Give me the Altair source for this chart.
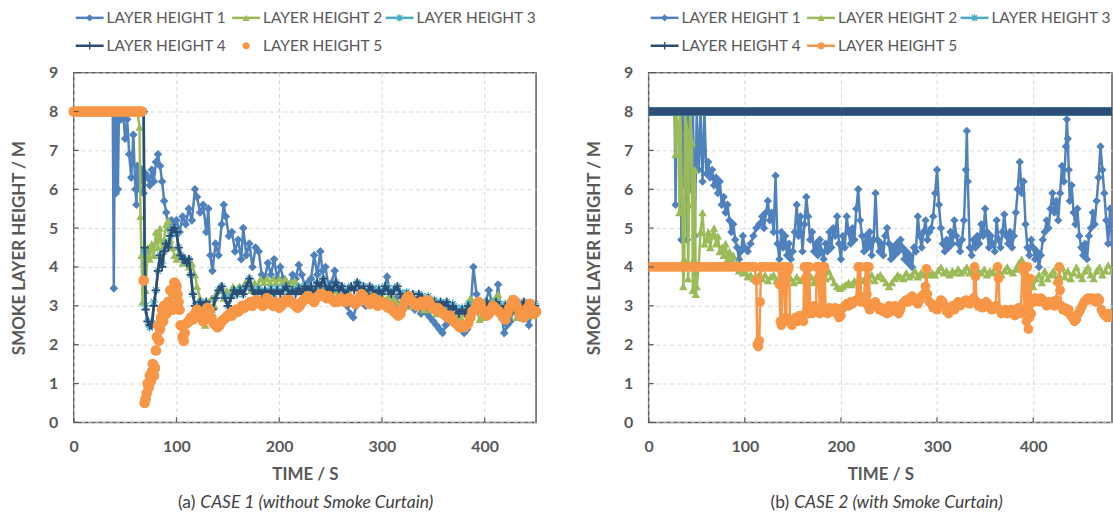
import altair as alt
import pandas as pd

# ---------------- CASE 1 (without smoke curtain): [time s, layer height m] ----------------
C1_LH1 = [[0,8],[5,8],[10,8],[15,8],[20,8],[25,8],[30,8],[35,8],[38,8],[39,3.45],[40,8],[41,5.9],[42,8],[43,6.0],[44,8],
          [46,7.8],[48,8],[50,7.3],[52,7.8],[54,6.9],[56,6.3],[58,7.4],[60,6.0],[61,5.6],[62,6.6],[64,6.0],[66,6.5],[68,5.9],
          [70,6.4],[72,6.3],[74,6.1],[76,6.5],[78,6.2],[80,6.7],[82,6.9],[84,6.6],[86,6.2],[88,5.7],[90,5.4],[92,5.0],[95,5.2],
          [98,5.1],[100,5.2],[103,4.9],[106,5.3],[109,5.1],[112,5.5],[115,5.2],[118,6.0],[120,5.8],[123,5.4],[126,5.6],[129,4.9],
          [131,5.5],[133,4.3],[135,3.9],[138,4.6],[141,4.3],[144,5.1],[146,5.6],[148,5.3],[151,4.8],[154,4.9],[157,4.4],[160,4.7],
          [163,4.2],[165,5.0],[168,4.3],[171,4.6],[174,4.0],[177,4.5],[180,4.4],[183,3.8],[186,3.7],[189,4.1],[192,3.8],[195,4.2],
          [198,3.7],[201,4.0],[204,3.7],[207,3.6],[210,3.5],[213,3.8],[216,3.7],[219,4.05],[222,3.8],[225,3.5],[228,3.6],[231,3.7],
          [234,4.3],[237,3.8],[240,4.4],[242,3.9],[245,4.0],[248,3.5],[251,3.6],[254,3.9],[257,3.4],[260,3.5],[263,3.2],[266,3.0],
          [269,2.8],[272,2.7],[275,3.0],[278,3.1],[281,3.2],[284,3.0],[287,3.3],[290,3.2],[293,3.4],[296,3.3],[299,3.2],[302,3.4],
          [305,3.75],[308,3.3],[311,3.1],[314,3.2],[317,3.0],[320,3.25],[323,3.1],[326,3.0],[329,3.1],[332,2.9],[335,3.0],[338,2.8],
          [341,2.9],[344,2.8],[347,2.7],[350,2.6],[353,2.5],[356,2.4],[359,2.3],[362,2.5],[365,2.6],[368,2.8],[371,2.6],[374,2.7],
          [377,2.5],[380,2.3],[383,2.4],[386,2.8],[389,4.0],[392,3.3],[395,3.0],[398,2.7],[401,3.1],[404,3.4],[407,3.1],[410,2.9],
          [413,3.55],[416,2.8],[419,2.3],[422,2.5],[425,2.6],[428,2.9],[431,2.8],[434,2.7],[437,3.0],[440,2.8],[443,2.5],[446,2.8],[449,2.9]]

C1_LH2 = [[0,8],[10,8],[20,8],[30,8],[40,8],[50,8],[60,8],[62,8],[64,7.6],[65,5.3],[66,4.3],[67,3.1],[68,4.1],[70,3.4],[72,4.5],
          [74,4.2],[76,4.6],[78,4.3],[80,4.9],[82,4.5],[84,5.0],[86,4.4],[88,4.7],[90,5.1],[92,5.2],[94,4.7],[96,4.5],[98,4.3],
          [100,4.2],[103,4.4],[106,4.1],[109,4.2],[112,4.0],[115,4.1],[118,3.8],[120,3.5],[123,3.2],[126,2.8],[128,2.5],[131,3.0],
          [134,3.2],[137,3.0],[140,3.4],[143,3.5],[146,3.2],[149,3.4],[152,3.3],[155,3.5],[158,3.4],[161,3.5],[164,3.4],[167,3.6],
          [170,3.5],[173,3.4],[176,3.6],[179,3.5],[182,3.7],[185,3.6],[188,3.7],[191,3.6],[194,3.7],[197,3.6],[200,3.7],[203,3.6],
          [206,3.7],[209,3.5],[212,3.6],[215,3.65],[218,3.5],[221,3.4],[224,3.5],[227,3.4],[230,3.5],[233,3.45],[236,3.5],[239,3.4],
          [242,3.5],[245,3.35],[248,3.4],[251,3.3],[254,3.4],[257,3.3],[260,3.2],[263,3.3],[266,3.2],[269,3.3],[272,3.1],[275,3.2],
          [278,3.3],[281,3.2],[284,3.3],[287,3.2],[290,3.3],[293,3.1],[296,3.2],[299,3.3],[302,3.1],[305,3.2],[308,3.3],[311,3.2],
          [314,3.1],[317,3.0],[320,3.1],[323,3.2],[326,3.1],[329,3.0],[332,3.1],[335,3.0],[338,3.1],[341,2.9],[344,3.0],[347,2.9],
          [350,2.95],[353,2.8],[356,2.9],[359,2.8],[362,2.9],[365,2.7],[368,2.8],[371,2.7],[374,2.8],[377,2.7],[380,2.8],[383,3.0],
          [386,3.2],[389,3.1],[392,2.9],[395,2.65],[398,2.7],[401,2.8],[404,3.0],[407,3.1],[410,3.2],[413,3.3],[416,3.0],[419,2.7],
          [422,2.8],[425,3.2],[428,2.9],[431,2.7],[434,2.8],[437,2.7],[440,2.9],[443,2.8],[446,2.75],[449,2.8]]

C1_LH3 = [[0,8],[10,8],[20,8],[30,8],[40,8],[50,8],[60,8],[68,8],[69,4.4],[70,3.0],[72,2.6],[74,2.45],[76,2.55],[78,3.1],[80,3.4],
          [82,3.9],[84,4.3],[86,4.1],[88,4.4],[90,4.6],[92,4.6],[94,4.8],[96,5.0],[98,4.95],[100,4.85],[102,4.5],[104,4.3],[106,4.25],
          [108,4.15],[110,4.1],[112,4.2],[114,3.8],[116,3.3],[118,3.0],[120,2.95],[123,3.1],[126,3.05],[129,3.1],[132,2.95],[135,2.9],
          [138,3.2],[141,3.4],[144,3.5],[147,3.25],[150,3.0],[153,3.25],[156,3.4],[159,3.3],[162,3.45],[165,3.3],[168,3.5],[171,3.7],
          [174,3.45],[177,3.3],[180,3.45],[183,3.35],[186,3.4],[189,3.35],[192,3.45],[195,3.3],[198,3.45],[201,3.35],[204,3.45],[207,3.5],
          [210,3.35],[213,3.4],[216,3.35],[219,3.5],[222,3.35],[225,3.5],[228,3.45],[231,3.5],[234,3.35],[237,3.6],[240,3.5],[243,3.7],
          [246,3.45],[249,3.5],[252,3.45],[255,3.6],[258,3.45],[261,3.5],[264,3.35],[267,3.45],[270,3.5],[273,3.45],[276,3.6],[279,3.45],
          [282,3.5],[285,3.35],[288,3.5],[291,3.45],[294,3.35],[297,3.45],[300,3.35],[303,3.5],[306,3.45],[309,3.35],[312,3.45],[315,3.5],
          [318,3.35],[321,3.25],[324,3.35],[327,3.25],[330,3.3],[333,3.15],[336,3.3],[339,3.25],[342,3.15],[345,3.25],[348,3.05],[351,3.15],
          [354,3.05],[357,3.1],[360,3.05],[363,3.1],[366,2.95],[369,3.05],[372,2.95],[375,2.85],[378,2.95],[381,2.85],[384,3.05],[387,2.95],
          [390,3.05],[393,2.95],[396,3.05],[399,2.95],[402,3.1],[405,3.05],[408,2.95],[411,3.1],[414,3.05],[417,2.95],[420,3.05],[423,2.85],
          [426,3.05],[429,2.95],[432,3.05],[435,2.95],[438,3.1],[441,2.95],[444,3.05],[447,2.95],[449,3.05]]

C1_LH4 = [[0,8],[10,8],[20,8],[30,8],[40,8],[50,8],[60,8],[68,8],[69,4.5],[70,2.9],[72,2.6],[74,2.5],[76,2.5],[78,3.0],[80,3.4],
          [82,3.9],[84,4.3],[86,4.0],[88,4.4],[90,4.6],[92,4.5],[94,4.8],[96,4.95],[98,5.0],[100,4.9],[102,4.5],[104,4.3],[106,4.2],
          [108,4.2],[110,4.1],[112,4.2],[114,3.8],[116,3.3],[118,3.0],[120,2.9],[123,3.1],[126,3.0],[129,3.1],[132,2.9],[135,2.9],
          [138,3.2],[141,3.4],[144,3.5],[147,3.2],[150,3.0],[153,3.2],[156,3.4],[159,3.3],[162,3.4],[165,3.3],[168,3.5],[171,3.7],
          [174,3.4],[177,3.3],[180,3.4],[183,3.3],[186,3.4],[189,3.3],[192,3.4],[195,3.3],[198,3.4],[201,3.3],[204,3.4],[207,3.5],
          [210,3.3],[213,3.4],[216,3.3],[219,3.45],[222,3.3],[225,3.5],[228,3.4],[231,3.5],[234,3.3],[237,3.6],[240,3.5],[243,3.7],
          [246,3.4],[249,3.5],[252,3.4],[255,3.6],[258,3.4],[261,3.5],[264,3.3],[267,3.4],[270,3.5],[273,3.4],[276,3.6],[279,3.4],
          [282,3.5],[285,3.3],[288,3.5],[291,3.4],[294,3.3],[297,3.4],[300,3.3],[303,3.5],[306,3.4],[309,3.3],[312,3.4],[315,3.5],
          [318,3.3],[321,3.2],[324,3.3],[327,3.2],[330,3.3],[333,3.1],[336,3.3],[339,3.2],[342,3.1],[345,3.2],[348,3.0],[351,3.1],
          [354,3.0],[357,3.1],[360,3.0],[363,3.1],[366,2.9],[369,3.0],[372,2.9],[375,2.8],[378,2.9],[381,2.8],[384,3.0],[387,2.9],
          [390,3.0],[393,2.9],[396,3.0],[399,2.9],[402,3.1],[405,3.0],[408,2.9],[411,3.1],[414,3.0],[417,2.9],[420,3.0],[423,2.8],
          [426,3.0],[429,2.9],[432,3.0],[435,2.9],[438,3.1],[441,2.9],[444,3.0],[447,2.9],[449,3.0]]

C1_LH5 = [[0,8],[2,8],[4,8],[6,8],[8,8],[10,8],[12,8],[14,8],[16,8],[18,8],[20,8],[22,8],[24,8],[26,8],[28,8],[30,8],[32,8],
          [34,8],[36,8],[38,8],[40,8],[42,8],[44,8],[46,8],[48,8],[50,8],[52,8],[54,8],[56,8],[58,8],[60,8],[62,8],[64,8],[66,8],
          [68,3.65],[69,0.5],[70,0.6],[71,0.75],[72,1.0],[73,0.9],[74,1.2],[75,1.05],[76,1.3],[77,1.5],[78,1.2],[79,1.4],[80,1.85],
          [81,2.2],[82,2.5],[83,2.1],[84,2.4],[85,2.7],[86,2.9],[87,2.6],[88,3.0],[90,2.8],[92,3.1],[94,3.4],[95,3.0],[96,2.9],[97,3.3],
          [98,3.6],[99,3.55],[100,3.5],[101,3.3],[102,3.1],[103,2.9],[104,2.5],[106,2.2],[107,2.1],[108,2.3],[110,2.55],[112,2.6],
          [114,2.7],[116,2.65],[118,2.8],[120,2.9],[122,2.8],[124,2.7],[126,2.6],[128,2.8],[130,2.95],[132,2.9],[134,2.7],[136,2.55],
          [138,2.5],[140,2.45],[142,2.5],[144,2.6],[146,2.65],[148,2.7],[150,2.75],[152,2.8],[154,2.75],[156,2.85],[158,2.9],[160,2.85],
          [162,2.9],[164,3.0],[166,2.95],[168,3.0],[170,3.05],[172,3.1],[174,3.0],[176,3.1],[178,3.15],[180,3.1],[182,3.05],[184,3.0],
          [186,3.1],[188,3.2],[190,3.1],[192,3.05],[194,3.0],[196,3.1],[198,3.05],[200,2.95],[202,3.0],[204,3.1],[206,3.15],[208,3.1],
          [210,3.15],[212,3.1],[214,3.05],[216,3.0],[218,2.95],[220,3.0],[222,3.1],[224,3.15],[226,3.2],[228,3.25],[230,3.2],[232,3.15],
          [234,3.1],[236,3.2],[238,3.25],[240,3.3],[242,3.3],[244,3.25],[246,3.2],[248,3.25],[250,3.2],[252,3.15],[254,3.1],[256,3.1],
          [258,3.15],[260,3.2],[262,3.15],[264,3.1],[266,3.15],[268,3.2],[270,3.15],[272,3.1],[274,3.05],[276,3.1],[278,3.2],[280,3.3],
          [282,3.25],[284,3.15],[286,3.1],[288,3.05],[290,3.1],[292,3.2],[294,3.1],[296,3.0],[298,3.05],[300,3.1],[302,3.05],[304,3.0],
          [306,2.95],[308,3.0],[310,2.9],[312,2.85],[314,2.8],[316,2.75],[318,2.8],[320,2.95],[322,3.1],[324,3.2],[326,3.25],[328,3.15],
          [330,3.1],[332,3.05],[334,3.0],[336,3.05],[338,3.1],[340,3.0],[342,3.1],[344,3.15],[346,3.1],[348,3.0],[350,2.95],[352,2.9],
          [354,2.95],[356,2.9],[358,2.85],[360,2.8],[362,2.75],[364,2.7],[366,2.75],[368,2.65],[370,2.6],[372,2.55],[374,2.5],[376,2.45],
          [378,2.5],[380,2.45],[382,2.5],[384,2.55],[386,2.7],[388,2.85],[390,2.9],[392,3.0],[394,3.1],[396,3.05],[398,2.9],[400,2.8],
          [402,2.75],[404,2.8],[406,2.9],[408,3.0],[410,2.95],[412,2.9],[414,2.85],[416,2.8],[418,2.7],[420,2.65],[422,2.8],[424,2.95],
          [426,3.05],[428,3.15],[430,3.1],[432,2.95],[434,2.8],[436,2.75],[438,2.7],[440,2.8],[442,2.95],[444,3.05],[446,2.9],[448,2.8],[450,2.85]]

# ---------------- CASE 2 (with smoke curtain) ----------------
C2_LH1 = [[0,8],[5,8],[10,8],[15,8],[20,8],[25,8],[27,8],[28,5.6],[29,8],[33,8],[34,4.7],[35,8],[36,6.1],[37,7.1],[38,8],[40,4.7],
          [41,8],[44,6.0],[46,8],[48,4.8],[50,8],[52,6.5],[54,8],[56,6.2],[58,8],[60,6.4],[62,6.7],[64,6.3],[66,6.5],[68,6.1],[70,6.3],
          [72,5.9],[74,6.2],[76,5.6],[78,5.8],[80,5.4],[82,5.6],[84,5.2],[86,4.9],[88,5.1],[90,4.7],[92,4.5],[94,4.2],[96,4.4],[98,4.8],
          [100,4.5],[103,4.4],[106,4.6],[109,4.8],[112,5.0],[115,5.1],[118,5.3],[120,5.0],[122,5.4],[124,5.7],[126,5.2],[128,5.4],
          [130,4.9],[132,6.35],[134,4.6],[136,4.2],[138,4.9],[140,4.5],[142,4.8],[144,4.3],[146,4.6],[148,4.2],[150,4.4],[152,4.9],
          [154,5.6],[156,4.8],[158,5.3],[160,4.4],[162,5.1],[164,5.8],[166,5.3],[168,4.7],[170,4.9],[172,4.4],[174,4.6],[176,4.3],
          [178,4.7],[180,4.4],[182,4.2],[184,4.6],[186,4.4],[188,4.9],[190,4.5],[192,5.0],[194,4.8],[196,5.3],[198,4.6],[200,4.2],
          [202,4.8],[204,4.5],[206,5.3],[208,4.9],[210,4.6],[212,5.0],[214,4.7],[216,5.5],[218,6.0],[220,5.2],[222,4.8],[224,4.4],
          [226,4.8],[228,4.5],[230,4.9],[232,4.3],[234,4.7],[236,5.9],[238,4.7],[240,4.4],[242,4.6],[244,4.3],[246,4.8],[248,5.0],
          [250,4.6],[252,4.2],[254,4.5],[256,4.3],[258,4.6],[260,4.4],[262,4.7],[264,4.5],[266,4.2],[268,4.4],[270,4.1],[272,4.3],
          [274,4.0],[276,4.5],[278,4.4],[280,5.3],[282,4.8],[284,4.5],[286,4.9],[288,5.2],[290,4.7],[292,4.9],[294,5.0],[296,5.3],
          [298,5.9],[300,6.5],[302,5.6],[304,5.0],[306,4.6],[308,4.4],[310,4.7],[312,4.5],[314,4.9],[316,4.6],[318,5.2],[320,4.8],
          [322,4.6],[324,4.4],[326,4.7],[328,5.2],[330,6.5],[331,7.5],[332,6.2],[334,4.5],[336,4.3],[338,4.7],[340,4.5],[342,4.8],
          [344,4.6],[346,5.1],[348,4.8],[350,5.5],[352,4.9],[354,4.5],[356,4.8],[358,4.6],[360,4.4],[362,5.2],[364,4.7],[366,4.5],
          [368,4.9],[370,5.35],[372,4.8],[374,4.6],[376,4.9],[378,4.5],[380,4.8],[382,5.4],[384,6.0],[386,6.7],[388,5.9],[390,6.2],
          [392,5.1],[394,4.5],[396,4.3],[398,4.7],[400,4.5],[402,4.2],[404,4.4],[406,4.0],[408,4.3],[410,4.7],[412,4.9],[414,5.2],
          [416,5.0],[418,5.5],[420,5.9],[422,5.4],[424,5.7],[426,5.2],[428,5.9],[430,6.6],[432,6.2],[434,7.1],[435,7.8],[436,7.3],
          [437,6.5],[438,5.7],[440,6.1],[442,5.4],[444,5.1],[446,5.5],[448,4.8],[450,4.5],[452,4.3],[454,4.6],[456,4.2],[458,4.8],
          [460,5.0],[462,5.4],[464,5.1],[466,5.7],[468,6.3],[470,7.1],[472,6.5],[474,5.9],[476,5.2],[478,4.6],[480,5.5],[482,4.6]]

C2_LH2 = [[0,8],[5,8],[10,8],[15,8],[20,8],[25,8],[27,8],[28,6.9],[29,8],[31,7.5],[32,5.4],[33,8],[35,5.5],[36,3.5],[37,4.2],
          [38,8],[40,7.5],[41,3.7],[42,5.6],[43,8],[45,7.2],[46,3.4],[47,4.2],[48,6.5],[49,3.3],[50,3.5],[52,4.0],[54,4.9],[56,5.4],
          [58,4.6],[60,4.7],[62,4.9],[64,4.5],[66,4.8],[68,5.0],[70,4.6],[72,4.8],[74,4.4],[76,4.5],[78,4.3],[80,4.6],[82,4.2],[84,4.4],
          [86,4.1],[88,4.3],[90,4.0],[92,4.1],[94,3.9],[96,4.0],[98,3.85],[100,3.9],[103,3.75],[106,3.8],[109,3.7],[112,3.75],[115,3.8],
          [118,3.7],[121,3.8],[124,3.65],[127,3.75],[130,3.8],[133,3.65],[136,3.7],[139,3.75],[142,3.6],[145,3.8],[148,3.7],[151,3.6],
          [154,3.75],[157,3.65],[160,3.7],[163,3.8],[166,3.65],[169,3.75],[172,3.6],[175,3.8],[178,3.7],[181,3.85],[184,3.7],[187,3.9],
          [190,3.75],[193,3.6],[196,3.5],[199,3.45],[202,3.5],[205,3.55],[208,3.6],[211,3.55],[214,3.65],[217,3.6],[220,3.7],[223,3.65],
          [226,3.75],[229,3.7],[232,3.8],[235,3.65],[238,3.75],[241,3.8],[244,3.7],[247,3.6],[250,3.5],[253,3.6],[256,3.7],[259,3.8],
          [262,3.75],[265,3.7],[268,3.85],[271,3.75],[274,3.8],[277,3.9],[280,3.75],[283,3.85],[286,3.8],[289,3.9],[292,3.8],[295,3.85],
          [298,3.8],[301,3.9],[304,4.0],[307,3.85],[310,3.9],[313,3.8],[316,3.9],[319,3.85],[322,3.95],[325,3.85],[328,3.9],[331,4.0],
          [334,3.85],[337,3.9],[340,3.8],[343,3.9],[346,3.85],[349,3.95],[352,3.8],[355,3.9],[358,3.85],[361,4.0],[364,3.9],[367,3.8],
          [370,3.9],[373,4.0],[376,3.9],[379,3.85],[382,3.95],[385,4.1],[388,4.2],[391,4.0],[394,3.8],[397,3.6],[400,3.5],[403,3.7],
          [406,3.8],[409,3.6],[412,3.9],[415,3.7],[418,3.8],[421,3.9],[424,3.65],[427,3.8],[430,4.0],[433,3.75],[436,3.9],[439,3.7],
          [442,3.85],[445,4.0],[448,3.8],[451,3.7],[454,3.9],[457,4.0],[460,3.8],[463,3.7],[466,3.9],[469,4.0],[472,3.8],[475,3.9],
          [478,4.05],[482,3.9]]

C2_LH3 = [[0,8],[482,8]]
C2_LH4 = [[0,8],[482,8]]

C2_LH5 = [[0,4],[4,4],[8,4],[12,4],[16,4],[20,4],[24,4],[28,4],[32,4],[36,4],[40,4],[44,4],[48,4],[52,4],[56,4],[60,4],[64,4],
          [68,4],[72,4],[76,4],[80,4],[84,4],[88,4],[92,4],[96,4],[100,4],[104,4],[108,4],[110,4],[112,3.65],[113,2.0],[114,1.95],
          [115,2.1],[116,3.1],[117,4],[120,4],[124,4],[128,4],[132,4],[135,4],[136,3.55],[137,2.6],[138,2.5],[139,3.6],[140,4],
          [141,3.8],[142,2.6],[143,2.7],[144,4],[145,3.9],[146,4],[147,2.6],[149,2.5],[151,2.6],[153,2.7],[155,2.6],[157,2.75],
          [159,2.7],[161,2.6],[162,4],[163,3.7],[164,2.85],[165,4],[166,2.8],[167,4],[168,2.9],[170,2.8],[172,3.0],[174,2.9],[175,4],
          [176,4],[177,3.7],[178,2.8],[179,4],[180,3.8],[181,2.85],[183,4],[184,2.9],[186,2.8],[188,2.95],[190,2.9],[192,2.85],
          [194,2.95],[196,2.8],[198,2.7],[200,2.75],[202,2.95],[204,3.0],[206,3.05],[208,3.0],[210,3.1],[212,3.05],[214,3.1],
          [216,3.15],[218,4],[219,3.2],[220,4],[221,3.1],[222,3.2],[224,3.15],[226,4],[227,3.3],[228,3.0],[229,4],[230,2.9],[232,3.05],
          [234,3.0],[236,3.1],[238,3.0],[240,2.9],[242,2.95],[244,2.85],[246,2.9],[248,2.8],[250,3.0],[252,2.85],[254,2.9],[256,3.0],
          [258,2.85],[260,2.8],[262,2.9],[264,3.05],[266,3.1],[268,3.15],[270,3.1],[272,3.2],[274,3.25],[276,3.2],[278,3.1],[280,3.05],
          [282,3.15],[284,3.25],[286,3.3],[288,3.5],[289,3.95],[290,3.3],[292,3.1],[294,3.05],[296,2.95],[298,3.0],[300,2.9],[302,3.05],
          [304,3.15],[306,3.1],[308,3.0],[310,2.85],[312,2.8],[314,2.9],[316,3.0],[318,2.9],[320,3.05],[322,3.1],[324,3.0],[326,3.05],
          [328,3.1],[330,3.15],[332,3.1],[334,3.05],[336,3.1],[338,3.2],[339,4],[340,3.75],[341,3.1],[343,3.0],[345,3.05],[347,2.95],
          [349,3.0],[351,3.1],[353,3.05],[355,2.95],[357,2.9],[359,2.95],[361,3.0],[363,4],[364,3.7],[365,2.9],[367,2.8],[369,2.85],
          [371,2.9],[373,2.8],[375,2.85],[377,2.9],[379,2.8],[381,2.75],[383,2.9],[385,2.95],[387,2.8],[389,4],[390,3.9],[391,2.9],
          [392,4],[393,2.6],[394,4],[395,2.4],[396,2.7],[397,3.7],[398,2.8],[400,3.1],[402,3.2],[404,3.15],[406,3.1],[408,3.2],
          [410,3.15],[412,3.1],[414,3.0],[416,3.1],[418,3.05],[420,3.1],[422,3.0],[424,3.15],[426,3.6],[427,4],[428,3.4],[429,3.0],
          [431,2.9],[433,2.95],[435,2.85],[437,2.9],[439,2.75],[441,2.7],[443,2.6],[445,2.65],[447,2.8],[449,2.9],[451,3.0],[453,3.1],
          [455,3.15],[457,3.2],[459,3.15],[461,3.2],[463,3.15],[465,3.1],[467,3.2],[469,3.15],[471,2.9],[473,2.8],[475,2.75],[477,2.7],
          [479,2.8],[482,2.7]]

SERIES_NAMES = ["LAYER HEIGHT 1", "LAYER HEIGHT 2", "LAYER HEIGHT 3", "LAYER HEIGHT 4", "LAYER HEIGHT 5"]
X_TICKS = [0, 100, 200, 300, 400]
Y_TICKS = [0, 1, 2, 3, 4, 5, 6, 7, 8, 9]
X_MAX = [450, 482]
CAPTION_TAGS = ["(a)", "(b)"]
CAPTION_TEXTS = ["CASE 1 (without Smoke Curtain)", "CASE 2 (with Smoke Curtain)"]

# ---------------- styling ----------------
FONT = "Lato"
GRAY = "#595959"
BLUE, GREEN, CYAN, NAVY, ORANGE = "#4F81BD", "#9BBB59", "#4BACC6", "#2C4D75", "#F79646"
STAR = "M-1,0L1,0M0,-1L0,1M-0.7,-0.7L0.7,0.7M-0.7,0.7L0.7,-0.7"
PLUS = "M-1,0L1,0M0,-1L0,1"
W1, W2, H = 464, 465, 351
ONE = pd.DataFrame({"k": [0]})


def style(color, shape, filled, size, line, lw=2.5, pw=1.5):
    return dict(color=color, shape=shape, filled=filled, size=size, line=line, lw=lw, pw=pw)


STYLES_1 = [style(BLUE, "diamond", True, 75, True), style(GREEN, "triangle-up", True, 70, True),
            style(CYAN, STAR, False, 75, True, 2.2, 1.3), style(NAVY, PLUS, False, 70, True, 2.75, 1.8),
            style(ORANGE, "circle", True, 115, False)]
STYLES_2 = [style(BLUE, "diamond", True, 70, True), style(GREEN, "triangle-up", True, 75, True),
            style(CYAN, STAR, False, 70, True, 9.0, 1.3), style(NAVY, PLUS, False, 70, True, 8.0, 1.8),
            style(ORANGE, "circle", True, 95, True, 2.5)]


def encs(xmax):
    x = alt.X("t:Q", scale=alt.Scale(domain=[0, xmax], nice=False, zero=False),
              axis=alt.Axis(values=X_TICKS, title="TIME / S", labelPadding=16, titlePadding=12, format="d",
                            labelFlush=False))
    y = alt.Y("v:Q", scale=alt.Scale(domain=[0, 9], nice=False, zero=False),
              axis=alt.Axis(values=Y_TICKS, title="SMOKE LAYER HEIGHT / M", labelPadding=16, titlePadding=20))
    return x, y


def series_layers(pairs, st, xmax, clip):
    x, y = encs(xmax)
    base = alt.Chart(pd.DataFrame(pairs, columns=["t", "v"])).encode(x=x, y=y)
    out = []
    if st["line"]:
        out.append(base.mark_line(color=st["color"], strokeWidth=st["lw"], clip=clip))
    if st["filled"]:
        out.append(base.mark_point(shape=st["shape"], filled=True, size=st["size"], color=st["color"], opacity=1,
                                   clip=clip))
    else:
        out.append(base.mark_point(shape=st["shape"], filled=False, size=st["size"], color=st["color"],
                                   strokeWidth=st["pw"], opacity=1, clip=clip))
    return out


def legend_layers(styles):
    cols = [2, 159, 313]
    rows = [-55, -27]
    out = []
    for i, (name, st) in enumerate(zip(SERIES_NAMES, styles)):
        x0 = cols[i % 3]
        yy = rows[i // 3]
        if st["line"]:
            out.append(alt.Chart(ONE).mark_rule(color=st["color"], strokeWidth=2.5).encode(
                x=alt.value(x0), x2=alt.value(x0 + 28), y=alt.value(yy)))
        out.append(alt.Chart(ONE).mark_point(shape=st["shape"], filled=st["filled"], size=50 if st["filled"] else 55,
                                             color=st["color"], strokeWidth=1.4, opacity=1).encode(
            x=alt.value(x0 + 14), y=alt.value(yy)))
        out.append(alt.Chart(ONE).mark_text(align="left", baseline="middle", font=FONT, fontSize=15.5, color=GRAY).encode(
            x=alt.value(x0 + 31), y=alt.value(yy), text=alt.value(name)))
    return out


def panel(all_pairs, styles, idx, width, clip):
    xmax = X_MAX[idx]
    x, y = encs(xmax)
    layers = []
    for pairs, st in zip(all_pairs, styles):
        layers += series_layers(pairs, st, xmax, clip)
    xt = alt.Chart(pd.DataFrame({"t": X_TICKS})).mark_rule(color=GRAY, strokeWidth=1.2).encode(
        x=x, y=alt.value(H), y2=alt.value(H - 5))
    yt = alt.Chart(pd.DataFrame({"v": Y_TICKS})).mark_rule(color=GRAY, strokeWidth=1.2).encode(
        y=y, x=alt.value(0), x2=alt.value(5))
    layers += [xt, yt]
    layers += legend_layers(styles)
    tag_x = [122, 141][idx]
    layers.append(alt.Chart(ONE).mark_text(align="right", baseline="middle", font=FONT, fontSize=17.5,
                                           color="#404040").encode(
        x=alt.value(tag_x), y=alt.value(432), text=alt.value(CAPTION_TAGS[idx])))
    layers.append(alt.Chart(ONE).mark_text(align="left", baseline="middle", font=FONT, fontSize=17.5,
                                           fontStyle="italic", color="#404040").encode(
        x=alt.value(tag_x + 5), y=alt.value(432), text=alt.value(CAPTION_TEXTS[idx])))
    return alt.layer(*layers).properties(width=width, height=H)


left = panel([C1_LH1, C1_LH2, C1_LH3, C1_LH4, C1_LH5], STYLES_1, 0, W1, False)
right = panel([C2_LH1, C2_LH2, C2_LH3, C2_LH4, C2_LH5], STYLES_2, 1, W2, True)

chart = alt.hconcat(left, right, spacing=40).properties(
    padding={"left": 9, "top": 9, "right": 0, "bottom": 0}, background="white"
).configure_view(stroke=GRAY, strokeWidth=1.5).configure_axis(
    grid=True, gridColor="#D9D9D9", gridDash=[4, 3], gridWidth=1, domain=False, ticks=False, tickSize=0,
    labelFont=FONT, labelFontSize=16, labelFontWeight="bold", labelColor=GRAY,
    titleFont=FONT, titleFontSize=17, titleFontWeight="bold", titleColor=GRAY)

chart.save("out.html", embed_options={"renderer": "svg", "actions": False})
